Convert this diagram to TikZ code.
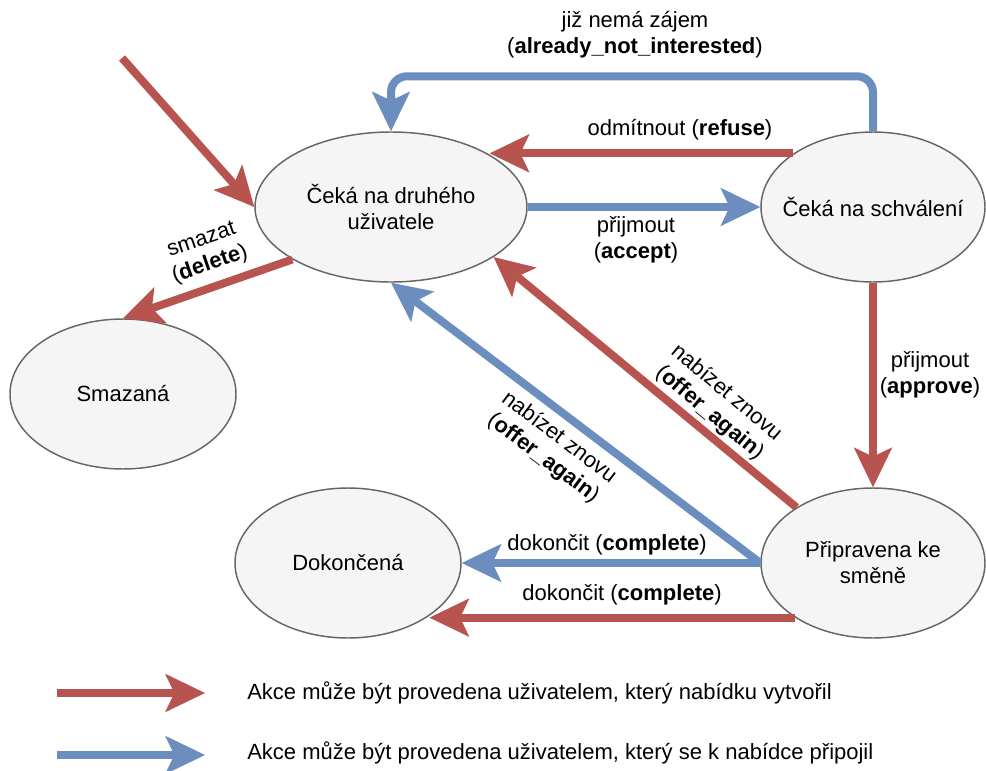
\documentclass[tikz,border=0pt]{standalone}
\usepackage{fontspec}
\setmainfont{Liberation Sans}
\usetikzlibrary{arrows.meta,shapes.geometric}
\definecolor{cred}{HTML}{B85450}
\definecolor{cblue}{HTML}{6C8EBF}
\definecolor{cfill}{HTML}{F5F5F5}
\definecolor{cline}{HTML}{666666}
\newcommand\myfs{\fontsize{16.5}{19.5}\selectfont}
\begin{document}
\begin{tikzpicture}[x=0.75pt,y=-0.75pt,
  state/.style={ellipse, draw=cline, fill=cfill, line width=1.1pt, inner xsep=-40pt, inner ysep=0pt, align=center, font=\myfs, minimum height=112.5pt},
  lbl/.style={align=center, font=\myfs, inner sep=0pt},
  tipst/.style={-{Stealth[length=30pt,width=29pt,inset=7pt,line width=0pt]}},
  redarrow/.style={draw=cred, line width=6pt, tipst},
  bluearrow/.style={draw=cblue, line width=6pt, tipst}]
\useasboundingbox (0,0) rectangle (986,771);
% states
\node[state, minimum width=204pt] (A) at (391,207) {Čeká na druhého\\uživatele};
\node[state, minimum width=168pt] (B) at (873,207) {Čeká na schválení};
\node[state, minimum width=169.5pt] (C) at (123,394) {Smazaná};
\node[state, minimum width=169.5pt] (D) at (348,563) {Dokončená};
\node[state, minimum width=168pt] (E) at (873,563) {Připravena ke\\směně};
% connectors
\coordinate (S) at (122,58);
\draw[redarrow] (S) -- (A.west);
\draw[bluearrow, rounded corners=12pt] (B.north) -- ++(0,-55) -| (A.north);
\draw[redarrow] (B.146) -- (B.146 -| A.28);
\draw[bluearrow] (A.east) -- (B.west);
\draw[redarrow] (A.208) -- (C.north);
\draw[redarrow] (B.south) -- (E.north);
\draw[redarrow] (E.144) -- (A.334);
\draw[bluearrow] (E.west) -- (A.south);
\draw[bluearrow] (E.west) -- (D.east);
\draw[redarrow] (E.215) -- (E.215 -| D.327);
% labels
\node[lbl] (l1) at (635,35) {již nemá zájem\\(\textbf{already\_not\_interested})};
\node[lbl] (l2) at (680,130) {odmítnout (\textbf{refuse})};
\node[lbl] (l3) at (636,240) {přijmout\\(\textbf{accept})};
\node[lbl, rotate=19] (l4) at (206,253) {smazat\\(\textbf{delete})};
\node[lbl] (l5) at (930,375) {přijmout\\(\textbf{approve})};
\node[lbl, rotate=-40] (l6) at (718,403) {nabízet znovu\\(\textbf{offer\_again})};
\node[lbl, rotate=-37] (l7) at (551,448) {nabízet znovu\\(\textbf{offer\_again})};
\node[lbl] (l8) at (607,545) {dokončit (\textbf{complete})};
\node[lbl] (l9) at (622,595) {dokončit (\textbf{complete})};
% legend
\coordinate (k1s) at (57,693);
\coordinate (k1e) at (205,693);
\coordinate (k2s) at (57,755);
\coordinate (k2e) at (205,755);
\draw[redarrow] (k1s) -- (k1e);
\draw[bluearrow] (k2s) -- (k2e);
\node[lbl, anchor=west] (k1t) at (247,693) {Akce může být provedena uživatelem, který nabídku vytvořil};
\node[lbl, anchor=west] (k2t) at (247,753) {Akce může být provedena uživatelem, který se k nabídce připojil};
\end{tikzpicture}
\end{document}
